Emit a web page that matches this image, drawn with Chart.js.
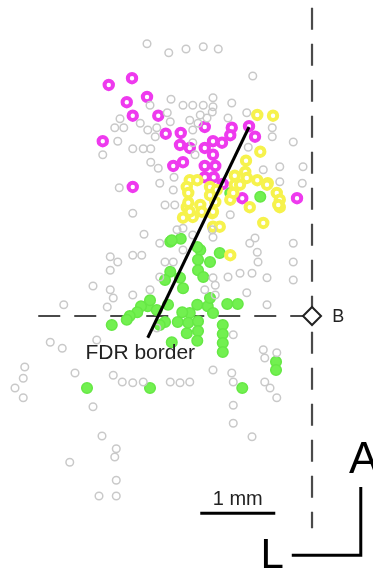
<!DOCTYPE html>
<html>
<head>
<meta charset="utf-8">
<script src="https://cdn.jsdelivr.net/npm/chart.js@4/dist/chart.umd.min.js"></script>
<style>
  html, body { margin: 0; padding: 0; background: #fff; overflow: hidden; }
  #map { display: block; }
</style>
</head>
<body>
<canvas id="map" width="373" height="574"></canvas>
<script>
// recording sites, mm relative to point B (x: lateral, y: anterior)
const greySites = [
  [-2.20,3.63],[-1.91,3.51],[-1.68,3.56],[-1.45,3.59],[-1.25,3.56],[-0.79,3.20],
  [-1.88,2.89],[-1.72,2.81],[-1.59,2.81],[-1.45,2.81],[-1.32,2.91],[-1.32,2.79],[-1.07,2.84],
  [-2.16,2.81],[-1.93,2.71],[-1.33,2.72],[-1.49,2.68],[-0.87,2.71],[-1.40,2.64],[-1.12,2.64],
  [-2.56,2.63],[-2.63,2.51],[-2.51,2.51],[-2.59,2.33],[-2.39,2.23],[-2.25,2.23],[-2.15,2.23],
  [-2.79,2.15],[-2.19,2.48],[-2.09,2.39],[-2.29,2.57],[-2.07,2.51],[-2.15,2.05],[-2.05,1.97],
  [-2.03,1.77],[-2.57,1.71],[-1.84,1.85],[-1.89,2.59],[-1.63,2.61],[-1.59,2.48],[-1.52,2.57],
  [-0.53,2.51],[-0.53,2.39],[-0.25,2.32],[-1.59,2.31],[-1.56,2.15],[-0.85,2.25],[-0.43,1.99],
  [-0.12,1.99],[-0.65,1.95],[-0.13,1.77],[-0.43,1.79],[-1.85,1.68],
  [-2.39,1.37],[-2.24,1.09],[-1.96,1.48],[-1.83,1.48],[-1.80,1.15],[-1.72,1.17],[-1.59,1.08],
  [-1.33,1.15],[-1.32,1.05],[-2.03,0.97],[-2.39,0.81],[-2.27,0.81],[-2.69,0.79],[-2.59,0.72],
  [-2.69,0.61],[-1.85,0.72],[-2.03,0.52],[-2.92,0.40],[-2.69,0.35],[-2.65,0.24],[-2.73,0.12],
  [-2.39,0.28],[-2.16,0.35],[-3.31,0.15],[-2.07,-0.16],[-2.87,-0.32],[-3.49,-0.35],[-3.33,-0.43],
  [-3.83,-0.68],[-3.85,-0.83],[-3.96,-0.96],[-3.85,-1.09],[-3.16,-0.76],[-2.65,-0.79],
  [-2.53,-0.88],[-2.39,-0.89],[-2.25,-0.88],[-1.89,-0.88],[-1.76,-0.89],[-1.63,-0.88],[-2.92,-1.21],
  [-1.09,1.35],[-0.83,0.97],[-0.76,1.04],[-0.73,0.85],[-0.72,0.72],[-0.80,0.57],[-0.96,0.57],
  [-1.12,0.52],[-0.60,0.51],[-0.25,0.97],[-0.25,0.72],[-0.25,0.48],[-0.60,0.15],[-1.32,0.51],
  [-1.29,0.41],[-0.87,0.31],[-1.05,-0.25],[-0.65,-0.45],[-0.63,-0.56],[-0.47,-0.49],
  [-1.32,-0.72],[-1.07,-0.76],[-1.05,-0.88],[-0.63,-0.88],[-0.56,-0.96],[-0.47,-1.09],
  [-1.05,-1.19],[-1.05,-1.43],[-0.80,-1.61],
  [-2.80,-1.60],[-2.61,-1.77],[-2.63,-1.88],[-3.23,-1.95],[-2.61,-2.19],[-2.84,-2.40],[-2.61,-2.40],
  [-1.43,0.35],[-1.29,0.28],[-1.72,0.88],[-1.96,0.72]
];
const yellowSites = [
  [-0.73,2.68],[-0.52,2.67],[-0.69,2.19],[-0.88,2.07],[-0.89,1.92],[-1.03,1.87],[-1.63,1.81],
  [-1.67,1.72],[-1.36,1.72],[-1.27,1.68],[-1.03,1.75],[-0.87,1.84],[-0.73,1.81],[-0.59,1.77],
  [-0.47,1.64],[-1.09,1.55],[-0.43,1.55],[-1.67,1.45],[-1.49,1.48],[-1.59,1.32],[-0.83,1.45],
  [-0.65,1.24],[-1.32,1.19],[-1.23,1.19],[-1.33,1.37],[-1.09,0.81],[-0.43,1.45],
  [-1.53,1.81],[-1.65,1.64],[-1.65,1.51],[-1.63,1.39],[-1.47,1.39],[-1.32,1.39],[-1.29,1.52],
  [-1.36,1.61],[-1.05,1.64],[-0.96,1.75],[-0.60,1.75],[-0.45,1.48],[-1.72,1.31]
];
const magentaSites = [
  [-2.71,3.08],[-2.40,3.17],[-2.47,2.85],[-2.20,2.92],[-2.39,2.67],[-2.05,2.67],[-2.79,2.33],
  [-1.95,2.43],[-1.75,2.44],[-1.76,2.28],[-1.63,2.24],[-1.85,2.00],[-1.72,2.05],[-2.39,1.72],
  [-1.43,2.52],[-1.07,2.51],[-1.09,2.41],[-0.84,2.53],[-0.76,2.39],[-1.32,2.33],[-1.20,2.31],
  [-1.43,2.24],[-1.32,2.15],[-1.43,2.00],[-1.29,2.00],[-1.43,1.85],[-1.31,1.85],[-1.19,1.76],
  [-0.93,1.57],[-0.20,1.57]
];
const greenSites = [
  [-0.69,1.59],[-1.09,1.64],[-1.89,0.99],[-1.75,1.03],[-1.49,0.88],[-1.52,0.75],[-1.36,0.72],
  [-1.52,0.61],[-1.89,0.59],[-1.96,0.48],[-1.76,0.51],[-1.72,0.37],[-1.23,0.84],[-1.45,0.52],
  [-2.19,0.13],[-2.28,0.13],[-2.33,0.05],[-2.07,0.08],[-2.43,0.00],[-2.67,-0.12],[-2.47,-0.05],
  [-1.96,-0.08],[-1.79,-0.08],[-1.87,-0.35],[-1.67,-0.23],[-1.53,0.15],[-1.39,0.13],[-1.32,0.04],
  [-1.13,0.16],[-0.99,0.16],[-1.63,0.04],[-1.65,-0.09],[-1.52,-0.07],[-1.52,-0.20],[-1.53,-0.33],
  [-1.19,-0.12],[-1.19,-0.24],[-1.19,-0.36],[-1.19,-0.48],[-0.48,-0.61],[-0.48,-0.72],
  [-3.00,-0.96],[-2.16,-0.96],[-0.93,-0.96],
  [-1.53,0.92],[-1.87,1.01],[-2.16,0.21],[-1.92,0.15],[-1.36,0.24],[-1.73,0.05],[-2.03,-0.12]
];
// FDR border end points, mm
const fdrBorder = [[-0.84,2.52],[-2.19,-0.29]];
const scaleBarMm = [-1.49,-0.49];

const pts = a => a.map(p => ({x:p[0], y:p[1]}));

const overlay = {
  id:'overlay',
  beforeDatasetsDraw(chart){
    const {ctx, scales:{x, y}} = chart;
    ctx.save();
    ctx.strokeStyle = '#4a4a4a';
    ctx.lineWidth = 2.2;
    ctx.setLineDash([22,14]);
    // midline through B
    ctx.beginPath();
    ctx.moveTo(x.getPixelForValue(0), y.getPixelForValue(4.11));
    ctx.lineTo(x.getPixelForValue(0), y.getPixelForValue(-2.83));
    ctx.stroke();
    ctx.beginPath();
    ctx.moveTo(x.getPixelForValue(-3.65), y.getPixelForValue(0));
    ctx.lineTo(x.getPixelForValue(-0.12), y.getPixelForValue(0));
    ctx.stroke();
    ctx.restore();
  },
  afterDatasetsDraw(chart){
    const {ctx, scales:{x, y}} = chart;
    ctx.save();
    // FDR border
    ctx.strokeStyle = '#000';
    ctx.lineWidth = 3;
    ctx.beginPath();
    ctx.moveTo(x.getPixelForValue(fdrBorder[0][0]), y.getPixelForValue(fdrBorder[0][1]));
    ctx.lineTo(x.getPixelForValue(fdrBorder[1][0]), y.getPixelForValue(fdrBorder[1][1]));
    ctx.stroke();

    ctx.fillStyle = '#222';
    ctx.textAlign = 'center';
    ctx.textBaseline = 'middle';
    ctx.font = '21px "Liberation Sans", Arial, sans-serif';
    ctx.fillText('FDR border', x.getPixelForValue(-2.29), y.getPixelForValue(-0.49));

    // point B
    const bx = x.getPixelForValue(0), by = y.getPixelForValue(0);
    ctx.beginPath();
    ctx.moveTo(bx, by-9); ctx.lineTo(bx+9, by); ctx.lineTo(bx, by+9); ctx.lineTo(bx-9, by); ctx.closePath();
    ctx.fillStyle = '#fff'; ctx.fill();
    ctx.strokeStyle = '#222'; ctx.lineWidth = 2; ctx.stroke();
    ctx.fillStyle = '#222';
    ctx.textAlign = 'left';
    ctx.font = '18px "Liberation Sans", Arial, sans-serif';
    ctx.fillText('B', x.getPixelForValue(0.27), by + 1);

    // scale bar 1 mm
    const sy = y.getPixelForValue(-2.63);
    ctx.strokeStyle = '#000'; ctx.lineWidth = 3;
    ctx.beginPath();
    ctx.moveTo(x.getPixelForValue(scaleBarMm[0]), sy);
    ctx.lineTo(x.getPixelForValue(scaleBarMm[1]), sy);
    ctx.stroke();
    ctx.textAlign = 'center';
    ctx.font = '20px "Liberation Sans", Arial, sans-serif';
    ctx.fillText('1 mm', x.getPixelForValue(-0.99), y.getPixelForValue(-2.44));

    // orientation
    ctx.beginPath();
    ctx.moveTo(x.getPixelForValue(0.65), y.getPixelForValue(-2.28));
    ctx.lineTo(x.getPixelForValue(0.65), y.getPixelForValue(-3.19));
    ctx.lineTo(x.getPixelForValue(-0.27), y.getPixelForValue(-3.19));
    ctx.stroke();
    ctx.fillStyle = '#000';
    ctx.font = '44px "Liberation Sans", Arial, sans-serif';
    ctx.fillText('A', x.getPixelForValue(0.69), y.getPixelForValue(-1.93));
    ctx.font = '42px "Liberation Sans", Arial, sans-serif';
    ctx.fillText('L', x.getPixelForValue(-0.53), y.getPixelForValue(-3.21));
    ctx.restore();
  }
};

new Chart(document.getElementById('map'), {
  type: 'scatter',
  data: {
    datasets: [
      { data: pts(greySites), pointRadius: 3.8, borderWidth: 1.5, borderColor: '#c9c9c9', backgroundColor: 'rgba(255,255,255,0)' },
      { data: pts(yellowSites), pointRadius: 4.2, borderWidth: 4, borderColor: '#f6f24c', backgroundColor: '#ffffff' },
      { data: pts(magentaSites), pointRadius: 4.2, borderWidth: 4, borderColor: '#ee3aee', backgroundColor: '#ffffff' },
      { data: pts(greenSites), pointRadius: 5.3, borderWidth: 1.5, borderColor: '#66e845', backgroundColor: '#72f050' }
    ]
  },
  options: {
    responsive: false,
    animation: false,
    clip: false,
    layout: { padding: 0, autoPadding: false },
    scales: {
      x: { type: 'linear', display: false, min: -4.16, max: 0.813 },
      y: { type: 'linear', display: false, min: -3.44, max: 4.213 }
    },
    plugins: { legend: { display: false }, tooltip: { enabled: false } },
    events: []
  },
  plugins: [overlay]
});
</script>
</body>
</html>
